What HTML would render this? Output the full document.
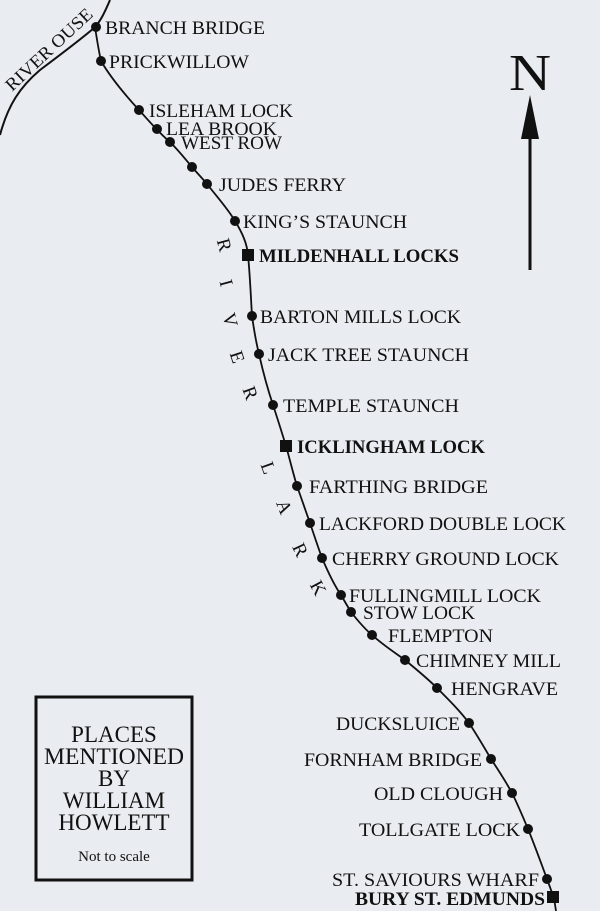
<!DOCTYPE html>
<html><head><meta charset="utf-8"><style>
html,body{margin:0;padding:0;background:#e9ecf0;}
svg{display:block}
text{font-family:"Liberation Serif",serif;fill:#111;}
</style></head><body>
<svg width="600" height="911" viewBox="0 0 600 911" xmlns="http://www.w3.org/2000/svg">
<rect width="600" height="911" fill="#e9ecf0"/>
<path d="M110,0 C104,14 100,22 94,28 C80,40 60,55 40,70 C20,87 8,105 0,135" fill="none" stroke="#111" stroke-width="2"/>
<text x="0" y="0" font-size="18" transform="translate(12,92) rotate(-43)" textLength="112" lengthAdjust="spacingAndGlyphs">RIVER OUSE</text>
<path d="M95,27 C97,40 99,52 101,61 C112,80 128,98 139,110 C150,122 160,134 170,142 C180,152 186,160 192,167 C198,174 202,178 207,184 C218,198 228,209 235,221 C243,234 247,244 248,255 C250,275 251,300 252,316 C254,330 256,342 259,354 C263,372 268,390 273,405 C278,420 282,433 286,446 C290,460 293,473 297,486 C302,500 306,512 310,523 C314,535 318,547 322,558 C328,572 334,585 341,595 C345,602 348,607 351,612 C358,621 365,629 372,635 C383,645 394,652 405,660 C416,669 427,678 437,688 C449,700 460,711 469,723 C477,735 484,747 491,759 C499,771 506,782 512,793 C518,805 523,817 528,829 C535,846 541,863 547,879 C550,887 552,893 554,898 L556,911" fill="none" stroke="#111" stroke-width="1.8"/>
<g fill="#111">
<circle cx="96" cy="27" r="5"/><circle cx="101" cy="61" r="5"/><circle cx="139" cy="110" r="5"/>
<circle cx="157" cy="129" r="5"/><circle cx="170" cy="142" r="5"/><circle cx="192" cy="167" r="5"/>
<circle cx="207" cy="184" r="5"/><circle cx="235" cy="221" r="5"/>
<rect x="242" y="249" width="12" height="12"/>
<circle cx="252" cy="316" r="5"/><circle cx="259" cy="354" r="5"/><circle cx="273" cy="405" r="5"/>
<rect x="280" y="440" width="12" height="12"/>
<circle cx="297" cy="486" r="5"/><circle cx="310" cy="523" r="5"/><circle cx="322" cy="558" r="5"/>
<circle cx="341" cy="595" r="5"/><circle cx="351" cy="612" r="5"/><circle cx="372" cy="635" r="5"/>
<circle cx="405" cy="660" r="5"/><circle cx="437" cy="688" r="5"/><circle cx="469" cy="723" r="5"/>
<circle cx="491" cy="759" r="5"/><circle cx="512" cy="793" r="5"/><circle cx="528" cy="829" r="5"/>
<circle cx="547" cy="879" r="5"/>
<rect x="547" y="891" width="12" height="12"/>
</g>
<g font-size="19">
<text x="105" y="34" textLength="160" lengthAdjust="spacingAndGlyphs">BRANCH BRIDGE</text>
<text x="109" y="68" textLength="140" lengthAdjust="spacingAndGlyphs">PRICKWILLOW</text>
<text x="149" y="117" textLength="144" lengthAdjust="spacingAndGlyphs">ISLEHAM LOCK</text>
<text x="166" y="135" textLength="111" lengthAdjust="spacingAndGlyphs">LEA BROOK</text>
<text x="181" y="149" textLength="101" lengthAdjust="spacingAndGlyphs">WEST ROW</text>
<text x="219" y="191" textLength="127" lengthAdjust="spacingAndGlyphs">JUDES FERRY</text>
<text x="243" y="228" textLength="164" lengthAdjust="spacingAndGlyphs">KING’S STAUNCH</text>
<text x="259" y="262" font-weight="bold" textLength="200" lengthAdjust="spacingAndGlyphs">MILDENHALL LOCKS</text>
<text x="260" y="323" textLength="201" lengthAdjust="spacingAndGlyphs">BARTON MILLS LOCK</text>
<text x="268" y="361" textLength="201" lengthAdjust="spacingAndGlyphs">JACK TREE STAUNCH</text>
<text x="283" y="412" textLength="176" lengthAdjust="spacingAndGlyphs">TEMPLE STAUNCH</text>
<text x="297" y="453" font-weight="bold" textLength="188" lengthAdjust="spacingAndGlyphs">ICKLINGHAM LOCK</text>
<text x="309" y="493" textLength="179" lengthAdjust="spacingAndGlyphs">FARTHING BRIDGE</text>
<text x="319" y="530" textLength="247" lengthAdjust="spacingAndGlyphs">LACKFORD DOUBLE LOCK</text>
<text x="332" y="565" textLength="227" lengthAdjust="spacingAndGlyphs">CHERRY GROUND LOCK</text>
<text x="349" y="602" textLength="192" lengthAdjust="spacingAndGlyphs">FULLINGMILL LOCK</text>
<text x="363" y="619" textLength="112" lengthAdjust="spacingAndGlyphs">STOW LOCK</text>
<text x="388" y="642" textLength="105" lengthAdjust="spacingAndGlyphs">FLEMPTON</text>
<text x="416" y="667" textLength="145" lengthAdjust="spacingAndGlyphs">CHIMNEY MILL</text>
<text x="451" y="695" textLength="107" lengthAdjust="spacingAndGlyphs">HENGRAVE</text>
<text x="336" y="730" textLength="124" lengthAdjust="spacingAndGlyphs">DUCKSLUICE</text>
<text x="304" y="766" textLength="178" lengthAdjust="spacingAndGlyphs">FORNHAM BRIDGE</text>
<text x="374" y="800" textLength="129" lengthAdjust="spacingAndGlyphs">OLD CLOUGH</text>
<text x="359" y="836" textLength="161" lengthAdjust="spacingAndGlyphs">TOLLGATE LOCK</text>
<text x="332" y="886" textLength="207" lengthAdjust="spacingAndGlyphs">ST. SAVIOURS WHARF</text>
<text x="355" y="905" font-weight="bold" textLength="190" lengthAdjust="spacingAndGlyphs">BURY ST. EDMUNDS</text>
</g>
<g font-size="19" text-anchor="middle">
<text transform="translate(224,245) rotate(75)" dy="6">R</text>
<text transform="translate(226,283) rotate(75)" dy="6">I</text>
<text transform="translate(230,320) rotate(75)" dy="6">V</text>
<text transform="translate(237,357) rotate(72)" dy="6">E</text>
<text transform="translate(250,393) rotate(70)" dy="6">R</text>
<text transform="translate(268,468) rotate(70)" dy="6">L</text>
<text transform="translate(284,507) rotate(68)" dy="6">A</text>
<text transform="translate(300,550) rotate(65)" dy="6">R</text>
<text transform="translate(318,588) rotate(62)" dy="6">K</text>
</g>
<text x="530" y="90" font-size="52" text-anchor="middle" textLength="42" lengthAdjust="spacingAndGlyphs">N</text>
<line x1="530" y1="135" x2="530" y2="270" stroke="#111" stroke-width="3"/>
<polygon points="530,95 521,139 539,139" fill="#111"/>
<rect x="36" y="697" width="156" height="183" fill="none" stroke="#111" stroke-width="3"/>
<g font-size="23" text-anchor="middle">
<text x="114" y="742">PLACES</text>
<text x="114" y="764" textLength="140" lengthAdjust="spacingAndGlyphs">MENTIONED</text>
<text x="114" y="786">BY</text>
<text x="114" y="808">WILLIAM</text>
<text x="114" y="830">HOWLETT</text>
<text x="114" y="861" font-size="15">Not to scale</text>
</g>
</svg>
</body></html>
